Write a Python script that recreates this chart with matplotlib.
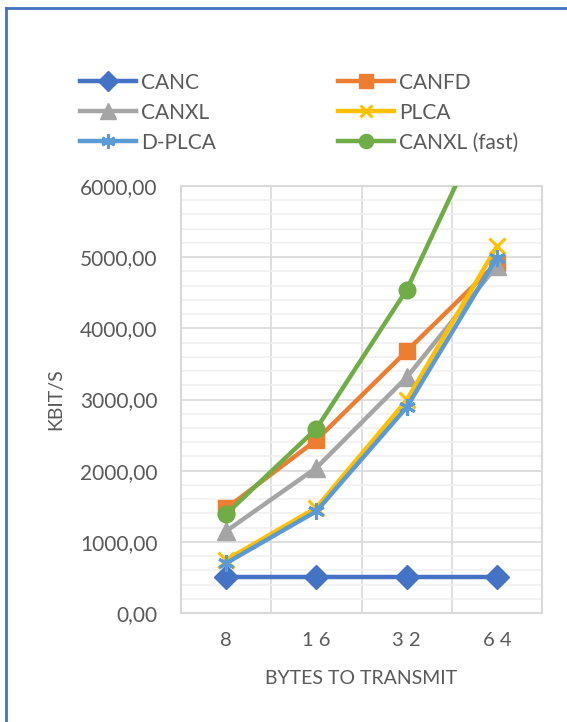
import matplotlib
matplotlib.use("Agg")
import matplotlib.pyplot as plt
from matplotlib.lines import Line2D
from matplotlib.ticker import MultipleLocator, FixedLocator, FuncFormatter

categories = ["8", "16", "32", "64"]
canc = [510, 510, 510, 510]
canfd = [1470, 2430, 3680, 4920]
canxl = [1150, 2040, 3310, 4880]
plca = [745, 1480, 2990, 5150]
dplca = [700, 1430, 2890, 4990]
canxl_fast = [1390, 2590, 4540, 7240]

series = [
    ("CANC", canc, "#4472C4", "D", 12),
    ("CANFD", canfd, "#ED7D31", "s", 12),
    ("CANXL", canxl, "#A5A5A5", "^", 13),
    ("PLCA", plca, "#FFC000", "x", 11),
    ("D-PLCA", dplca, "#5B9BD5", (6, 2, 0), 12),
    ("CANXL (fast)", canxl_fast, "#70AD47", "o", 12),
]

plt.rcParams["font.family"] = ["Lato", "DejaVu Sans"]

W, H = 567, 722
fig = plt.figure(figsize=(W / 100, H / 100), dpi=100)
fig.patch.set_facecolor("white")
tc = "#595959"

ax = fig.add_axes([181 / W, 1 - 613 / H, (542 - 181) / W, (613 - 186) / H])
x = list(range(len(categories)))
handles = []
for name, vals, col, mk, ms in series:
    mew = 2.2 if mk in ("x", (6, 2, 0)) else 1
    (ln,) = ax.plot(x, vals, color=col, lw=3.2, marker=mk, ms=ms,
                    mfc=col, mec=col, mew=mew, label=name, zorder=3)
    handles.append(ln)

ax.set_xlim(-0.5, len(categories) - 0.5)
ax.set_ylim(0, 6000)
ax.yaxis.set_major_locator(MultipleLocator(1000))
ax.yaxis.set_minor_locator(MultipleLocator(200))
ax.xaxis.set_major_locator(FixedLocator(x))
ax.xaxis.set_minor_locator(FixedLocator([0.5, 1.5, 2.5]))
# category labels are shown with the wide digit spacing of the original
ax.xaxis.set_major_formatter(FuncFormatter(
    lambda v, p: " ".join(categories[int(round(v))])))
ax.yaxis.set_major_formatter(FuncFormatter(lambda v, p: f"{v:.2f}".replace(".", ",")))
ax.tick_params(axis="y", which="both", length=0, pad=17, labelsize=15, labelcolor=tc)
ax.tick_params(axis="x", which="both", length=0, pad=14, labelsize=14.5, labelcolor=tc)
ax.grid(True, axis="y", which="major", color="#D9D9D9", lw=1.2, zorder=0)
ax.grid(True, axis="y", which="minor", color="#F0F0F0", lw=1.2, zorder=0)
ax.grid(True, axis="x", which="minor", color="#D9D9D9", lw=1.2, zorder=0)
ax.set_axisbelow(True)
for s in ax.spines.values():
    s.set_color("#D9D9D9")
    s.set_linewidth(1.5)

ax.set_ylabel("KBIT/S", fontsize=14, color=tc, labelpad=11)
ax.set_xlabel("BYTES TO TRANSMIT", fontsize=14, color=tc, labelpad=15)

# legend filled row by row: reorder for matplotlib's column-wise filling
order = [0, 2, 4, 1, 3, 5]
leg = fig.legend(handles=[handles[i] for i in order], loc="upper left", ncol=2,
                 bbox_to_anchor=(61 / W, 1 - 54 / H), frameon=False,
                 prop={"size": 15}, handlelength=2.7,
                 handletextpad=0.25, columnspacing=5.85, labelspacing=0.48,
                 labelcolor=tc, markerscale=0.85)

# figure border (left and top visible)
fig.add_artist(Line2D([6 / W, 6 / W], [0, 1 - 7.5 / H], color="#4472C4", lw=2,
                      transform=fig.transFigure))
fig.add_artist(Line2D([6 / W, 1], [1 - 7.5 / H, 1 - 7.5 / H], color="#4472C4", lw=2,
                      transform=fig.transFigure))

fig.savefig("out.png", dpi=100)
